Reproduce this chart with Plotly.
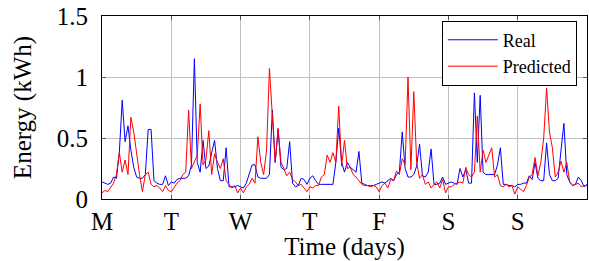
import numpy as np
import plotly.graph_objects as go

day_labels = ["M", "T", "W", "T", "F", "S", "S"]
y_ticks = [0, 0.5, 1, 1.5]
y_tick_text = ["0", "0.5", "1", "1.5"]

# hourly energy (kWh), Monday .. Sunday (Sunday carries the closing sample)
real_mon = [0.14,0.13,0.12,0.13,0.18,0.17,0.38,0.81,0.47,0.60,0.40,0.26,0.18,0.17,0.17,0.20,0.57,0.57,0.15,0.13,0.12,0.12,0.19,0.11]
real_tue = [0.14,0.13,0.16,0.17,0.17,0.17,0.19,0.28,1.15,0.30,0.22,0.48,0.25,0.27,0.38,0.48,0.25,0.15,0.15,0.42,0.10,0.10,0.10,0.11]
real_wed = [0.10,0.09,0.13,0.20,0.28,0.28,0.18,0.17,0.17,0.17,0.20,0.73,0.30,0.57,0.26,0.24,0.25,0.47,0.13,0.10,0.11,0.17,0.16,0.12]
real_thu = [0.17,0.19,0.15,0.12,0.12,0.12,0.12,0.12,0.12,0.30,0.58,0.30,0.22,0.30,0.26,0.24,0.22,0.39,0.13,0.12,0.11,0.11,0.11,0.12]
real_fri = [0.13,0.14,0.13,0.15,0.17,0.15,0.20,0.22,0.55,0.25,0.18,0.18,0.20,0.27,0.45,0.19,0.18,0.22,0.41,0.12,0.12,0.13,0.18,0.12]
real_sat = [0.13,0.14,0.13,0.12,0.25,0.18,0.24,0.13,0.13,0.87,0.30,0.85,0.22,0.20,0.20,0.20,0.20,0.28,0.42,0.12,0.12,0.11,0.11,0.10]
real_sun = [0.12,0.12,0.13,0.13,0.19,0.16,0.30,0.17,0.15,0.15,0.46,0.20,0.15,0.15,0.17,0.40,0.62,0.20,0.14,0.11,0.12,0.18,0.15,0.10,0.12]

pred_mon = [0.05,0.07,0.06,0.10,0.13,0.20,0.38,0.22,0.32,0.20,0.67,0.55,0.35,0.20,0.06,0.20,0.22,0.12,0.10,0.11,0.09,0.06,0.11,0.07]
pred_tue = [0.06,0.10,0.13,0.15,0.20,0.22,0.73,0.25,0.30,0.36,0.78,0.28,0.32,0.56,0.20,0.37,0.30,0.25,0.33,0.15,0.12,0.09,0.11,0.05]
pred_wed = [0.09,0.05,0.10,0.12,0.17,0.13,0.51,0.30,0.20,0.40,1.07,0.72,0.30,0.58,0.30,0.25,0.19,0.22,0.16,0.14,0.11,0.12,0.09,0.06]
pred_thu = [0.10,0.09,0.11,0.11,0.18,0.20,0.36,0.30,0.38,0.30,0.76,0.27,0.48,0.25,0.26,0.20,0.18,0.15,0.12,0.11,0.11,0.10,0.11,0.10]
pred_fri = [0.06,0.11,0.13,0.09,0.16,0.15,0.23,0.20,0.33,0.28,1.00,0.24,0.88,0.30,0.17,0.20,0.12,0.14,0.09,0.12,0.14,0.09,0.16,0.05]
pred_sat = [0.10,0.10,0.12,0.13,0.14,0.13,0.26,0.20,0.18,0.22,0.68,0.22,0.40,0.30,0.36,0.42,0.18,0.20,0.11,0.10,0.12,0.10,0.11,0.04]
pred_sun = [0.10,0.08,0.06,0.11,0.18,0.20,0.34,0.19,0.30,0.50,0.91,0.55,0.42,0.18,0.22,0.31,0.22,0.30,0.14,0.11,0.12,0.13,0.10,0.11,0.11]

real = real_mon + real_tue + real_wed + real_thu + real_fri + real_sat + real_sun
pred = pred_mon + pred_tue + pred_wed + pred_thu + pred_fri + pred_sat + pred_sun
t_days = np.arange(len(real)) / 24.0

FONT = "Liberation Serif, Times New Roman, Times, serif"

fig = go.Figure()
fig.add_trace(go.Scatter(x=t_days, y=real, mode="lines", name="Real",
                         line=dict(color="rgb(0,0,255)", width=1)))
fig.add_trace(go.Scatter(x=t_days, y=pred, mode="lines", name="Predicted",
                         line=dict(color="rgb(255,0,0)", width=1)))

fig.update_layout(
    width=589, height=261,
    margin=dict(l=102, r=2, t=16, b=62),
    paper_bgcolor="white", plot_bgcolor="white",
    font=dict(family=FONT, size=25, color="black"),
    showlegend=True,
    legend=dict(x=0.979, y=0.975, xanchor="right", yanchor="top",
                bgcolor="white", bordercolor="black", borderwidth=1,
                font=dict(family=FONT, size=18, color="black"),
                itemwidth=50, tracegroupgap=0),
)
fig.update_xaxes(
    range=[0, 7], tickvals=list(range(7)), ticktext=day_labels,
    tickfont=dict(family=FONT, size=25, color="black"),
    showgrid=True, gridcolor="#c0c0c0", gridwidth=1,
    showline=True, linecolor="black", linewidth=1, mirror="allticks",
    ticks="inside", ticklen=4, tickcolor="#555",
    ticklabelstandoff=0, zeroline=False,
    title=dict(text="Time (days)", standoff=6,
               font=dict(family=FONT, size=25, color="black")),
    automargin=False,
)
fig.update_yaxes(
    range=[0, 1.5], tickvals=y_ticks, ticktext=y_tick_text,
    tickfont=dict(family=FONT, size=25, color="black"),
    showgrid=True, gridcolor="#c0c0c0", gridwidth=1,
    showline=True, linecolor="black", linewidth=1, mirror="allticks",
    ticks="inside", ticklen=4, tickcolor="#555",
    ticklabelstandoff=8, zeroline=False,
    title=dict(text="Energy (kWh)", standoff=18,
               font=dict(family=FONT, size=25, color="black")),
    automargin=False,
)

fig.write_html("out.html", config={"displayModeBar": False},
               post_script="document.body.style.margin='0';")
